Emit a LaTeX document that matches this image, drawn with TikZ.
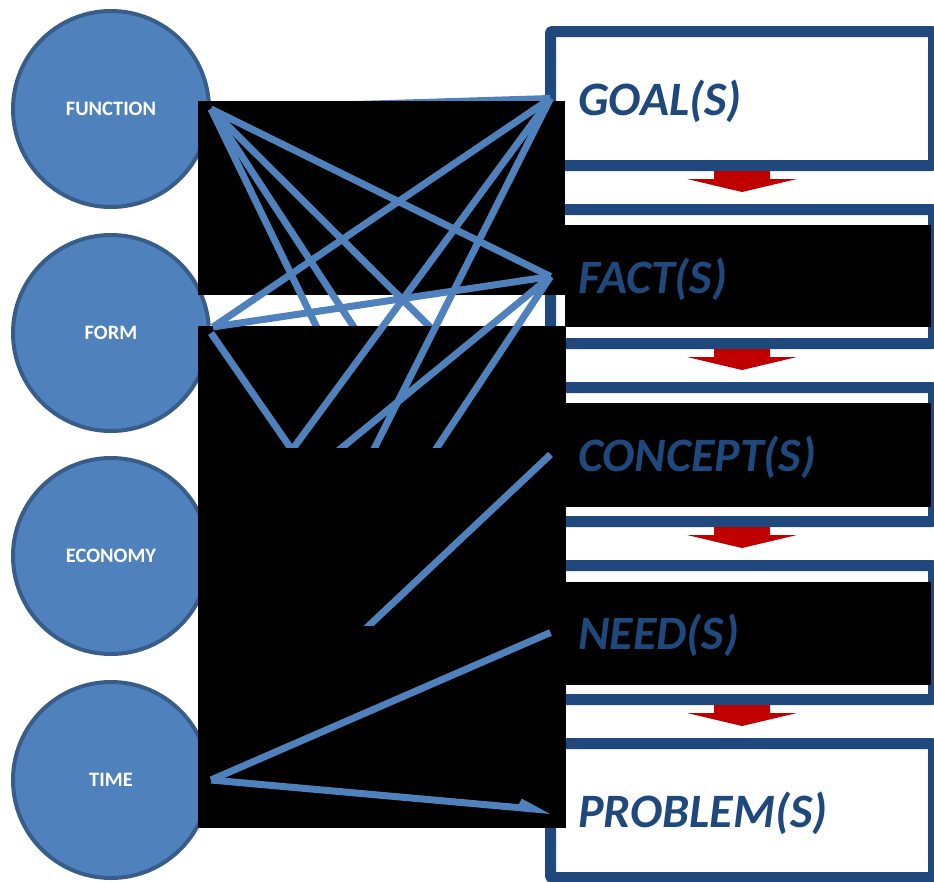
\documentclass[tikz,border=0pt]{standalone}
\usepackage{fontspec}
\setmainfont{Carlito}
\usepackage{tikz}
\usetikzlibrary{calc}
\usetikzlibrary{arrows.meta}
\definecolor{circfill}{HTML}{4F81BD}
\definecolor{circline}{HTML}{385D8A}
\definecolor{boxline}{HTML}{1F497D}
\definecolor{linkblue}{HTML}{4F81BD}
\definecolor{flowred}{HTML}{C00000}

\begin{document}
\begin{tikzpicture}
  [
    x=1pt, y=-1pt,
    aspect/.style={circle, minimum size=196pt, inner sep=0pt,
      draw=circline, line width=4pt, fill=circfill, text=white,
      font=\fontsize{20.5}{24}\selectfont\bfseries},
    stage/.style={rectangle, rounded corners=2pt, minimum width=383pt,
      minimum height=134pt, draw=boxline, line width=11pt, fill=white,
      outer sep=0pt},
    stagetext/.style={anchor=base west, inner sep=0pt, text=boxline,
      font=\fontsize{48}{56}\selectfont\bfseries\itshape},
    link/.style={draw=linkblue, line width=7pt},
    mask/.style={fill=black},
    flow/.style={fill=flowred}
  ]
  \useasboundingbox (0,0) rectangle (934,881);

  \node (function) at (111,109) [aspect] {FUNCTION};
  \node (form)     at (111,333) [aspect] {FORM};
  \node (economy)  at (111,556) [aspect] {ECONOMY};
  \node (time)     at (111,780) [aspect] {TIME};

  \node (goal)    at (742,98.5)  [stage] {};
  \node (fact)    at (742,276.5) [stage] {};
  \node (concept) at (742,454.5) [stage] {};
  \node (need)    at (742,632.5) [stage] {};
  \node (problem) at (742,810.5) [stage] {};

  \fill [flow] ($(goal.south)+(-28,5.5)$) -- ++(0,8) -- ++(-27,0) -- ++(55,13)
    -- ++(55,-13) -- ++(-27,0) -- ++(0,-8) -- cycle;
  \fill [flow] ($(fact.south)+(-28,5.5)$) -- ++(0,8) -- ++(-27,0) -- ++(55,13)
    -- ++(55,-13) -- ++(-27,0) -- ++(0,-8) -- cycle;
  \fill [flow] ($(concept.south)+(-28,5.5)$) -- ++(0,8) -- ++(-27,0) -- ++(55,13)
    -- ++(55,-13) -- ++(-27,0) -- ++(0,-8) -- cycle;
  \fill [flow] ($(need.south)+(-28,5.5)$) -- ++(0,8) -- ++(-27,0) -- ++(55,13)
    -- ++(55,-13) -- ++(-27,0) -- ++(0,-8) -- cycle;

  \draw [link] (function.east) -- (goal.west);

  \fill [mask] (198,101) rectangle (565,295);
  \fill [mask] (565,225) rectangle (931,327);
  \fill [mask] (565,403) rectangle (931,507);
  \fill [mask] (565,582) rectangle (931,685);

  \node (goallabel)    at (578,115.5) [stagetext] {GOAL(S)};
  \node (factlabel)    at (578,293.5) [stagetext] {FACT(S)};
  \node (conceptlabel) at (578,471.5) [stagetext] {CONCEPT(S)};
  \node (needlabel)    at (578,649.5) [stagetext] {NEED(S)};
  \node (problemlabel) at (578,827.5) [stagetext] {PROBLEM(S)};

  \coordinate (fcut1) at (322,338);
  \coordinate (fcut2) at (361,338);
  \coordinate (fcut3) at (441,338);

  \draw [link] (function.east) -- (fact.west);
  \draw [link] (function.east) -- (fcut1);
  \draw [link] (function.east) -- (fcut2);
  \draw [link] (function.east) -- (fcut3);

  \fill [mask] (198,326) rectangle (566,828);

  \draw [link] ([shift={(2,-6)}]form.east) -- (goal.west);
  \draw [link] ([shift={(2,-6)}]form.east) -- (fact.west);

  \coordinate (vcut)  at (292,450);
  \coordinate (gcut)  at (371,455);
  \coordinate (fcut4) at (333,455);
  \coordinate (fcut5) at (432,455);
  \coordinate (ccut)  at (359,635);

  \begin{scope}
    \clip (0,0) rectangle (934,447);
    \draw [link] (form.east) -- (vcut);
    \draw [link] (goal.west) -- (vcut);
    \draw [link] (goal.west) -- (gcut);
    \draw [link] (fact.west) -- (fcut4);
    \draw [link] (fact.west) -- (fcut5);
  \end{scope}

  \begin{scope}
    \clip (0,0) rectangle (934,625);
    \draw [link] (concept.west) -- (ccut);
  \end{scope}

  \draw [link] (need.west) -- (time.east);
  \draw [link, -{Straight Barb[harpoon, length=14pt, width=12pt]}]
    (time.east) -- (problem.west);
\end{tikzpicture}
\end{document}
